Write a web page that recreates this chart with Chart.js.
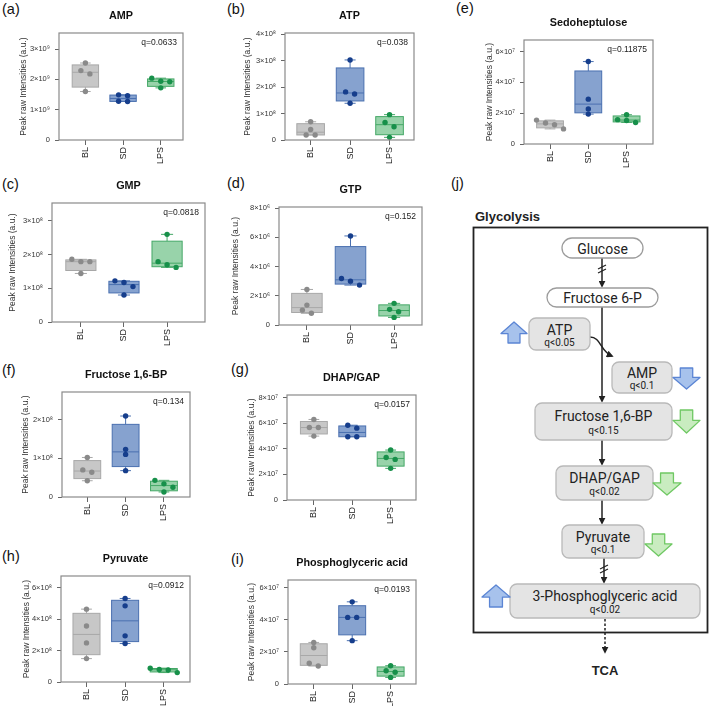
<!DOCTYPE html>
<html>
<head>
<meta charset="utf-8">
<script src="https://cdn.jsdelivr.net/npm/chart.js@4.4.0/dist/chart.umd.min.js"></script>
<style>
  body { margin: 0; background: #fff; }
  #wrap { position: relative; width: 709px; height: 706px; overflow: hidden; font-family: Arial, "Liberation Sans", sans-serif; }
  #wrap canvas { position: absolute; }
  .tag { position: absolute; font-size: 14.5px; line-height: 15px; color: #111; }
  #path { position: absolute; left: 0; top: 0; }
</style>
</head>
<body>
<div id="wrap">
  <div class="tag" style="left:2px;top:2px">(a)</div>
  <div class="tag" style="left:227px;top:2px">(b)</div>
  <div class="tag" style="left:456px;top:1px">(e)</div>
  <div class="tag" style="left:2px;top:177px">(c)</div>
  <div class="tag" style="left:227px;top:176px">(d)</div>
  <div class="tag" style="left:2px;top:363px">(f)</div>
  <div class="tag" style="left:231px;top:362px">(g)</div>
  <div class="tag" style="left:2px;top:549px">(h)</div>
  <div class="tag" style="left:231px;top:552px">(i)</div>
  <div class="tag" style="left:451px;top:176px">(j)</div>
  <svg id="path" width="709" height="706"></svg>
</div>
<script>
const GROUPS = ['BL', 'SD', 'LPS'];

// peak raw intensities, 4 animals per group
const AMP_BL = [2.54e9, 2.29e9, 2.18e9, 1.60e9];
const AMP_SD = [1.49e9, 1.46e9, 1.28e9, 1.27e9];
const AMP_LPS = [2.04e9, 1.94e9, 1.92e9, 1.72e9];

const ATP_BL = [0.69e8, 0.40e8, 0.19e8, 0.19e8];
const ATP_SD = [3.03e8, 1.82e8, 1.74e8, 1.39e8];
const ATP_LPS = [0.96e8, 0.66e8, 0.50e8, 0.10e8];

const SEDO_BL = [1.55e7, 1.36e7, 1.25e7, 0.98e7];
const SEDO_SD = [5.35e7, 2.91e7, 2.27e7, 1.94e7];
const SEDO_LPS = [1.90e7, 1.58e7, 1.53e7, 1.40e7];

const GMP_BL = [1.86e8, 1.79e8, 1.79e8, 1.44e8];
const GMP_SD = [1.22e8, 1.17e8, 1.05e8, 0.80e8];
const GMP_LPS = [2.60e8, 1.79e8, 1.70e8, 1.62e8];

const GTP_BL = [2.43e6, 1.36e6, 1.02e6, 0.80e6];
const GTP_SD = [6.09e6, 3.18e6, 3.00e6, 2.73e6];
const GTP_LPS = [1.48e6, 1.07e6, 0.91e6, 0.52e6];

const F16BP_BL = [1.02e8, 0.70e8, 0.64e8, 0.42e8];
const F16BP_SD = [2.09e8, 1.23e8, 1.10e8, 0.68e8];
const F16BP_LPS = [0.43e8, 0.34e8, 0.25e8, 0.13e8];

const DHAP_BL = [6.29e7, 5.66e7, 5.66e7, 4.99e7];
const DHAP_SD = [5.84e7, 5.61e7, 4.94e7, 4.94e7];
const DHAP_LPS = [3.90e7, 3.32e7, 3.17e7, 2.47e7];

const PYR_BL = [4.64e8, 3.57e8, 2.49e8, 1.49e8];
const PYR_SD = [5.32e8, 4.85e8, 2.94e8, 2.45e8];
const PYR_LPS = [0.88e8, 0.80e8, 0.76e8, 0.60e8];

const PGA_BL = [2.59e7, 2.26e7, 1.29e7, 1.12e7];
const PGA_SD = [5.12e7, 4.15e7, 4.15e7, 2.70e7];
const PGA_LPS = [1.14e7, 0.83e7, 0.73e7, 0.41e7];

// y tick labels
const TICKS_AMP = [0, 1e9, 2e9, 3e9];
const TICKS_ATP = [0, 1e8, 2e8, 3e8, 4e8];
const TICKS_SEDO = [0, 2e7, 4e7, 6e7];
const TICKS_GMP = [0, 1e8, 2e8, 3e8];
const TICKS_GTP = [0, 2e6, 4e6, 6e6, 8e6];
const TICKS_F16BP = [0, 1e8, 2e8];
const TICKS_DHAP = [0, 2e7, 4e7, 6e7, 8e7];
const TICKS_PYR = [0, 2e8, 4e8, 6e8];
const TICKS_PGA = [0, 2e7, 4e7, 6e7];

const TITLES = ['AMP', 'ATP', 'Sedoheptulose', 'GMP', 'GTP', 'Fructose 1,6-BP', 'DHAP/GAP', 'Pyruvate', 'Phosphoglyceric acid'];
const Q_TEXT = ['q=0.0633', 'q=0.038', 'q=0.11875', 'q=0.0818', 'q=0.152', 'q=0.134', 'q=0.0157', 'q=0.0912', 'q=0.0193'];

// colours per group
const FILL = ['#c7c7c7', '#86a2cf', '#98d3aa'];
const EDGE = ['#a8a8a8', '#4a70b0', '#45a867'];
const DOT = ['#8a8a8a', '#163e8c', '#17904a'];

// layout: plot box [left, top, right, bottom], x range, y max, y axis width
const PANELS = [
  { sets: [AMP_BL, AMP_SD, AMP_LPS], ticks: TICKS_AMP, ymax: 3.53e9, plot: [59, 33, 183, 140], xr: [-0.70, 2.59], yw: 40 },
  { sets: [ATP_BL, ATP_SD, ATP_LPS], ticks: TICKS_ATP, ymax: 4.05e8, plot: [285, 33, 414, 140], xr: [-0.65, 2.62], yw: 42 },
  { sets: [SEDO_BL, SEDO_SD, SEDO_LPS], ticks: TICKS_SEDO, ymax: 6.75e7, plot: [524, 40, 653, 144], xr: [-0.68, 2.69], yw: 39 },
  { sets: [GMP_BL, GMP_SD, GMP_LPS], ticks: TICKS_GMP, ymax: 3.53e8, plot: [52, 203, 205, 322], xr: [-0.67, 2.88], yw: 44 },
  { sets: [GTP_BL, GTP_SD, GTP_LPS], ticks: TICKS_GTP, ymax: 8.07e6, plot: [279, 207, 422, 325], xr: [-0.64, 2.64], yw: 48 },
  { sets: [F16BP_BL, F16BP_SD, F16BP_LPS], ticks: TICKS_F16BP, ymax: 2.71e8, plot: [62, 392, 190, 497], xr: [-0.66, 2.68], yw: 41 },
  { sets: [DHAP_BL, DHAP_SD, DHAP_LPS], ticks: TICKS_DHAP, ymax: 8.2e7, plot: [287, 395, 416, 500], xr: [-0.70, 2.66], yw: 40 },
  { sets: [PYR_BL, PYR_SD, PYR_LPS], ticks: TICKS_PYR, ymax: 6.75e8, plot: [61, 576, 190, 682], xr: [-0.66, 2.68], yw: 39 },
  { sets: [PGA_BL, PGA_SD, PGA_LPS], ticks: TICKS_PGA, ymax: 6.48e7, plot: [288, 580, 416, 684], xr: [-0.67, 2.66], yw: 41 }
];

const FONT = 'Arial, "Liberation Sans", Helvetica, sans-serif';
Chart.defaults.font.family = FONT;

const SUP = { '0': '⁰', '1': '¹', '2': '²', '3': '³', '4': '⁴', '5': '⁵', '6': '⁶', '7': '⁷', '8': '⁸', '9': '⁹' };
function sciLabel(v) {
  if (v === 0) return '0';
  const e = Math.floor(Math.log10(v) + 1e-9);
  const m = Math.round(v / Math.pow(10, e));
  return m + '×10' + String(e).split('').map(c => SUP[c]).join('');
}

// Prism style quantile (n+1 method)
function quant(s, p) {
  const pos = (s.length + 1) * p;
  const lo = Math.floor(pos);
  if (lo < 1) return s[0];
  if (lo >= s.length) return s[s.length - 1];
  return s[lo - 1] + (pos - lo) * (s[lo] - s[lo - 1]);
}

// spread points that sit on the same row
function swarm(vals, pxVal, pxCat) {
  const idx = vals.map((v, i) => i).sort((a, b) => vals[b] - vals[a]);
  const off = vals.map(() => 0);
  const rows = [[idx[0]]];
  for (let k = 1; k < idx.length; k++) {
    if ((vals[idx[k - 1]] - vals[idx[k]]) * pxVal < 4.6) rows[rows.length - 1].push(idx[k]);
    else rows.push([idx[k]]);
  }
  rows.forEach(r => r.forEach((j, n) => { off[j] = (n - (r.length - 1) / 2) * 9 / pxCat; }));
  return off;
}

function boxPlugin(k) {
  return {
    id: 'boxes' + k,
    beforeDatasetsDraw(chart) {
      const { ctx, scales: { x, y } } = chart;
      PANELS[k].sets.forEach((vals, i) => {
        const s = vals.slice().sort((a, b) => a - b);
        const q1 = y.getPixelForValue(quant(s, 0.25));
        const q3 = y.getPixelForValue(quant(s, 0.75));
        const md = y.getPixelForValue(quant(s, 0.5));
        const lo = y.getPixelForValue(s[0]);
        const hi = y.getPixelForValue(s[s.length - 1]);
        const cx = x.getPixelForValue(i);
        const hw = x.getPixelForValue(i + 0.35) - cx;
        const cw = x.getPixelForValue(i + 0.14) - cx;
        ctx.save();
        ctx.fillStyle = FILL[i];
        ctx.fillRect(cx - hw, q3, hw * 2, q1 - q3);
        ctx.strokeStyle = EDGE[i];
        ctx.lineWidth = 1;
        ctx.strokeRect(cx - hw, q3, hw * 2, q1 - q3);
        ctx.beginPath();
        ctx.moveTo(cx - hw, md); ctx.lineTo(cx + hw, md);
        ctx.moveTo(cx, q3); ctx.lineTo(cx, hi);
        ctx.moveTo(cx, q1); ctx.lineTo(cx, lo);
        ctx.moveTo(cx - cw, hi); ctx.lineTo(cx + cw, hi);
        ctx.moveTo(cx - cw, lo); ctx.lineTo(cx + cw, lo);
        ctx.stroke();
        ctx.restore();
      });
    },
    afterDraw(chart) {
      const { ctx, chartArea: a } = chart;
      ctx.save();
      ctx.strokeStyle = '#8a8a8a';
      ctx.lineWidth = 1.2;
      ctx.strokeRect(a.left, a.top, a.right - a.left, a.bottom - a.top);
      ctx.fillStyle = '#111';
      ctx.font = 'bold 10.8px ' + FONT;
      ctx.textAlign = 'center';
      ctx.textBaseline = 'middle';
      ctx.fillText(TITLES[k], (a.left + a.right) / 2, a.top - 17);
      ctx.font = '8.5px ' + FONT;
      ctx.fillStyle = '#222';
      ctx.textAlign = 'right';
      ctx.fillText(Q_TEXT[k], a.right - 6, a.top + 10);
      ctx.restore();
    }
  };
}

const wrap = document.getElementById('wrap');
const TOPPAD = 28, RPAD = 4, XH = 28;

PANELS.forEach((p, k) => {
  const [L, T, R, B] = p.plot;
  const W = R - L, H = B - T;
  const cv = document.createElement('canvas');
  cv.width = W + p.yw + RPAD;
  cv.height = H + TOPPAD + XH;
  cv.style.left = (L - p.yw) + 'px';
  cv.style.top = (T - TOPPAD) + 'px';
  cv.style.width = cv.width + 'px';
  cv.style.height = cv.height + 'px';
  wrap.appendChild(cv);

  const pxVal = H / p.ymax;
  const pxCat = W / (p.xr[1] - p.xr[0]);
  const datasets = p.sets.map((vals, i) => {
    const off = swarm(vals, pxVal, pxCat);
    return {
      data: vals.map((v, j) => ({ x: i + off[j], y: v })),
      backgroundColor: DOT[i],
      pointRadius: 2.7,
      pointHoverRadius: 2.7,
      borderWidth: 0
    };
  });

  new Chart(cv, {
    type: 'scatter',
    data: { datasets },
    options: {
      responsive: false,
      animation: false,
      devicePixelRatio: 1,
      layout: { padding: { left: 0, top: TOPPAD, right: RPAD, bottom: 0 } },
      plugins: { legend: { display: false }, tooltip: { enabled: false } },
      scales: {
        x: {
          type: 'linear',
          min: p.xr[0],
          max: p.xr[1],
          afterBuildTicks: s => { s.ticks = [0, 1, 2].map(v => ({ value: v })); },
          afterFit: s => { s.height = XH; },
          ticks: {
            callback: v => GROUPS[v],
            autoSkip: false,
            minRotation: 90,
            maxRotation: 90,
            padding: 2,
            color: '#222',
            font: { size: 9 }
          },
          grid: { drawOnChartArea: false, tickLength: 5, tickColor: '#666', tickWidth: 1 },
          border: { display: false }
        },
        y: {
          min: 0,
          max: p.ymax,
          afterBuildTicks: s => { s.ticks = p.ticks.map(v => ({ value: v })); },
          afterFit: s => { s.width = p.yw; },
          ticks: { callback: v => sciLabel(v), padding: 1, color: '#333', font: { size: 7.5 } },
          grid: { drawOnChartArea: false, tickLength: 8, tickColor: '#666', tickWidth: 1, tickBorderDash: [0, 4, 4, 100] },
          border: { display: false },
          title: { display: true, text: 'Peak raw Intensities (a.u.)', color: '#333', font: { size: 8.5 }, padding: { top: 0, bottom: 0 } }
        }
      }
    },
    plugins: [boxPlugin(k)]
  });
});

// ---- (j) glycolysis schematic ----
function node(x1, y1, x2, y2, name, q, white) {
  const h = y2 - y1, cx = (x1 + x2) / 2;
  let s = `<rect x="${x1}" y="${y1}" width="${x2 - x1}" height="${h}" rx="${white ? h / 2 : 7}" fill="${white ? '#fff' : '#e4e4e4'}" stroke="${white ? '#9c9c9c' : '#b9b9b9'}" stroke-width="1.3"/>`;
  if (q) {
    s += `<text x="${cx}" y="${y1 + h * 0.36}" font-size="14" text-anchor="middle" dominant-baseline="central">${name}</text>`;
    s += `<text x="${cx}" y="${y1 + h * 0.75}" font-size="10" text-anchor="middle" dominant-baseline="central">${q}</text>`;
  } else {
    s += `<text x="${cx}" y="${y1 + h / 2 + 0.5}" font-size="14" text-anchor="middle" dominant-baseline="central">${name}</text>`;
  }
  return s;
}
function blockArrow(x, y, w, h, up, fill, stroke) {
  const hh = h * 0.55, s1 = x + w * 0.27, s2 = x + w * 0.73;
  const pts = up
    ? [[x + w / 2, y], [x + w, y + hh], [s2, y + hh], [s2, y + h], [s1, y + h], [s1, y + hh], [x, y + hh]]
    : [[s1, y], [s2, y], [s2, y + h - hh], [x + w, y + h - hh], [x + w / 2, y + h], [x, y + h - hh], [s1, y + h - hh]];
  return `<polygon points="${pts.map(p => p.join(',')).join(' ')}" fill="${fill}" stroke="${stroke}" stroke-width="1.3" stroke-linejoin="round"/>`;
}
function vArrow(x, y1, y2, dash) {
  return `<line x1="${x}" y1="${y1}" x2="${x}" y2="${y2 - 2}" stroke="#222" stroke-width="1.5" ${dash ? 'stroke-dasharray="2.5,2"' : ''} marker-end="url(#ah)"/>`;
}
function slashes(x, m) {
  return `<path d="M${x - 4},${m - 1} L${x + 4},${m - 5} M${x - 4},${m + 3} L${x + 4},${m - 1}" stroke="#222" stroke-width="1.2" fill="none"/>`;
}

const BLUE = ['#a7c2ec', '#5b85d4'];
const GREEN = ['#c9ecc0', '#6fc863'];
let svg = `<defs><marker id="ah" markerUnits="userSpaceOnUse" viewBox="0 0 8 8" refX="6" refY="4" markerWidth="7" markerHeight="7" orient="auto"><path d="M0,0 L8,4 L0,8 z" fill="#222"/></marker></defs>`;
svg += `<g font-family="Roboto, Arial, sans-serif" fill="#222">`;
svg += `<text x="475" y="221" font-size="13" font-weight="bold" font-family="Arial, 'Liberation Sans', sans-serif">Glycolysis</text>`;
svg += `<rect x="473.5" y="227.5" width="234" height="405" fill="none" stroke="#222" stroke-width="1.8"/>`;
svg += vArrow(602, 258, 288) + slashes(602, 270);
svg += vArrow(602, 307, 403);
svg += vArrow(602, 440, 466);
svg += vArrow(602, 500, 525);
svg += vArrow(604, 558, 584) + slashes(604, 570);
svg += vArrow(605, 619, 654, true);
svg += `<path d="M590,337 C601,337 600,351 612,356" stroke="#222" stroke-width="1.5" fill="none" marker-end="url(#ah)"/>`;
svg += node(562, 238, 643, 258, 'Glucose', null, true);
svg += node(547, 288, 658, 307, 'Fructose 6-P', null, true);
svg += node(529, 318, 590, 350, 'ATP', 'q&lt;0.05');
svg += node(612, 362, 672, 393, 'AMP', 'q&lt;0.1');
svg += node(535, 403, 672, 440, 'Fructose 1,6-BP', 'q&lt;0.15');
svg += node(556, 466, 653, 500, 'DHAP/GAP', 'q&lt;0.02');
svg += node(562, 525, 644, 558, 'Pyruvate', 'q&lt;0.1');
svg += node(510, 584, 700, 618, '3-Phosphoglyceric acid', 'q&lt;0.02');
svg += blockArrow(501, 322, 26, 21, true, BLUE[0], BLUE[1]);
svg += blockArrow(673, 368, 27, 21, false, BLUE[0], BLUE[1]);
svg += blockArrow(673, 410, 27, 23, false, GREEN[0], GREEN[1]);
svg += blockArrow(653, 473, 28, 22, false, GREEN[0], GREEN[1]);
svg += blockArrow(645, 534, 27, 22, false, GREEN[0], GREEN[1]);
svg += blockArrow(482, 585, 28, 22, true, BLUE[0], BLUE[1]);
svg += `<text x="605" y="670" font-size="13" font-weight="bold" text-anchor="middle" dominant-baseline="central" font-family="Arial, 'Liberation Sans', sans-serif">TCA</text>`;
svg += `</g>`;
document.getElementById('path').innerHTML = svg;
</script>
</body>
</html>
